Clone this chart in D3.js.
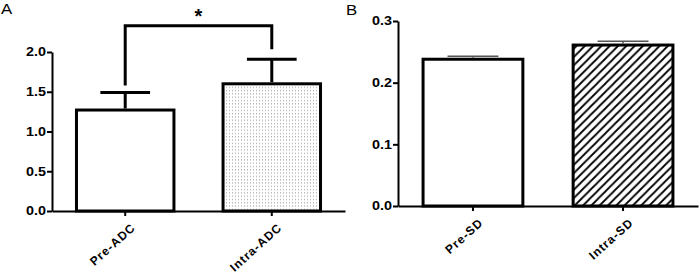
<!DOCTYPE html>
<html>
<head>
<meta charset="utf-8">
<script src="https://cdn.jsdelivr.net/npm/d3@7"></script>
<style>
  body { margin: 0; background: #fff; }
  text { font-family: "Liberation Sans", Arial, sans-serif; }
</style>
</head>
<body>
<svg width="700" height="273"></svg>
<script>
// panel A: ADC
const adcCategories = ['Pre-ADC', 'Intra-ADC'];
const adcMeans = [1.27, 1.60];
const adcErrors = [0.22, 0.31];
const adcTicks = [0.0, 0.5, 1.0, 1.5, 2.0];

// panel B: SD
const sdCategories = ['Pre-SD', 'Intra-SD'];
const sdMeans = [0.238, 0.261];
const sdErrors = [0.005, 0.006];
const sdTicks = [0.0, 0.1, 0.2, 0.3];

const svg = d3.select('svg');

// fill patterns
const defs = svg.append('defs');
const dots = defs.append('pattern')
    .attr('id', 'dots')
    .attr('patternUnits', 'userSpaceOnUse')
    .attr('width', 3)
    .attr('height', 3.3);
dots.append('rect').attr('width', 3).attr('height', 3.3).attr('fill', '#fff');
dots.append('rect').attr('x', 1).attr('y', 1).attr('width', 1).attr('height', 1).attr('fill', '#999');

const hatch = defs.append('pattern')
    .attr('id', 'hatch')
    .attr('patternUnits', 'userSpaceOnUse')
    .attr('width', 8.3)
    .attr('height', 8.3);
hatch.append('rect').attr('width', 8.3).attr('height', 8.3).attr('fill', '#fff');
hatch.append('path')
    .attr('d', 'M0,8.3 L8.3,0 M-2,2 L2,-2 M6.3,10.3 L10.3,6.3')
    .attr('stroke', '#000')
    .attr('stroke-width', 1.8);

// rotation used for the category labels
const labelAngle = -42 * Math.PI / 180;
const cosA = Math.cos(labelAngle).toFixed(4);
const sinA = Math.sin(labelAngle).toFixed(4);

function panel(opts) {
    const g = svg.append('g');
    const x = d3.scaleBand()
        .domain(opts.categories)
        .range(opts.xRange)
        .paddingInner(0.335)
        .paddingOuter(0.167);
    const y = d3.scaleLinear()
        .domain(opts.yDomain)
        .range(opts.yRange);

    // bars
    g.selectAll('rect.bar')
        .data(opts.categories)
        .join('rect')
        .attr('class', 'bar')
        .attr('x', d => x(d))
        .attr('y', (d, i) => y(opts.means[i]))
        .attr('width', x.bandwidth())
        .attr('height', (d, i) => y(0) - y(opts.means[i]))
        .attr('fill', (d, i) => opts.fills[i])
        .attr('stroke', '#000')
        .attr('stroke-width', 3);

    // error bars (upper only)
    const capW = x.bandwidth() * 0.51;
    opts.categories.forEach((c, i) => {
        const cx = x(c) + x.bandwidth() / 2;
        const top = y(opts.means[i] + opts.errors[i]);
        g.append('path')
            .attr('d', `M${cx},${y(opts.means[i]) - 1.5}V${top}M${cx - capW / 2},${top}H${cx + capW / 2}`)
            .attr('fill', 'none')
            .attr('stroke', opts.errColor)
            .attr('stroke-width', opts.errWidth);
    });

    // y axis
    const yAxis = g.append('g')
        .attr('transform', `translate(${opts.xRange[0]},0)`)
        .call(d3.axisLeft(y).tickValues(opts.ticks).tickFormat(d3.format('.1f')).tickSize(5).tickSizeOuter(0));
    yAxis.select('.domain').attr('stroke-width', 2);
    yAxis.selectAll('.tick line').attr('stroke-width', 2);
    yAxis.selectAll('.tick text')
        .attr('x', 0)
        .attr('transform', 'matrix(1.2,0,0,1,-6,0)')
        .style('font-size', '12px')
        .style('font-weight', 'bold')
        .attr('fill', '#000');

    // x axis
    const xAxis = g.append('g')
        .attr('transform', `translate(0,${y(0)})`)
        .call(d3.axisBottom(x).tickSize(5).tickSizeOuter(0));
    xAxis.select('.domain').attr('stroke-width', 2);
    xAxis.selectAll('.tick line').attr('stroke-width', 2);
    xAxis.selectAll('.tick text').remove();
    xAxis.selectAll('.tick')
        .append('g')
        .attr('transform', 'translate(5,11)')
        .append('text')
        .attr('transform', `matrix(${cosA},${sinA},${-sinA},${cosA},0,0)`)
        .attr('dy', '0.75em')
        .attr('text-anchor', 'end')
        .style('font-size', '12px')
        .style('letter-spacing', '1px')
        .style('font-weight', 'bold')
        .attr('fill', '#000')
        .text(d => d);

    // panel letter
    g.append('text')
        .attr('transform', `matrix(1.2,0,0,1,${opts.letterX},${opts.letterY})`)
        .style('font-size', '14px')
        .text(opts.letter);

    return { g, x, y };
}

const a = panel({
    categories: adcCategories, means: adcMeans, errors: adcErrors, ticks: adcTicks,
    xRange: [52, 345], yDomain: [0, 2], yRange: [211, 52],
    fills: ['#fff', 'url(#dots)'], errColor: '#000', errWidth: 3,
    letter: 'A', letterX: 1, letterY: 14
});

panel({
    categories: sdCategories, means: sdMeans, errors: sdErrors, ticks: sdTicks,
    xRange: [398, 698], yDomain: [0, 0.3], yRange: [206, 21],
    fills: ['#fff', 'url(#hatch)'], errColor: '#555', errWidth: 1.5,
    letter: 'B', letterX: 346, letterY: 15
});

// significance bracket between the two ADC bars
const x1 = a.x(adcCategories[0]) + a.x.bandwidth() / 2;
const x2 = a.x(adcCategories[1]) + a.x.bandwidth() / 2;
const yb = a.y(2.33);
const leg1 = a.y(adcMeans[0] + adcErrors[0]) - 7;
const leg2 = a.y(adcMeans[1] + adcErrors[1]) - 10;
a.g.append('path')
    .attr('d', `M${x1},${leg1}V${yb}H${x2}V${leg2}`)
    .attr('fill', 'none')
    .attr('stroke', '#000')
    .attr('stroke-width', 3);
a.g.append('text')
    .attr('x', (x1 + x2) / 2)
    .attr('y', yb - 3)
    .attr('text-anchor', 'middle')
    .style('font-size', '20px')
    .style('font-weight', 'bold')
    .text('*');
</script>
</body>
</html>
